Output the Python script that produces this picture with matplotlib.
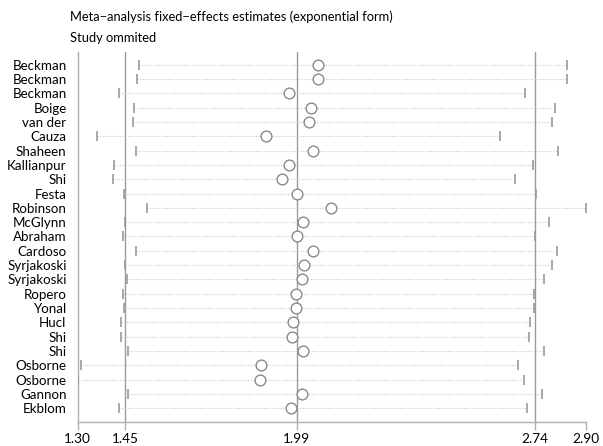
import matplotlib
matplotlib.use("Agg")
import matplotlib.pyplot as plt

studies = ["Beckman", "Beckman", "Beckman", "Boige", "van der", "Cauza", "Shaheen",
           "Kallianpur", "Shi", "Festa", "Robinson", "McGlynn", "Abraham", "Cardoso",
           "Syrjakoski", "Syrjakoski", "Ropero", "Yonal", "Hucl", "Shi", "Shi",
           "Osborne", "Osborne", "Gannon", "Ekblom"]
estimate = [2.057, 2.055, 1.966, 2.034, 2.029, 1.893, 2.042, 1.964, 1.943, 1.990,
            2.097, 2.010, 1.989, 2.040, 2.012, 2.007, 1.988, 1.988, 1.978, 1.976,
            2.009, 1.877, 1.875, 2.005, 1.970]
lower = [1.493, 1.488, 1.429, 1.478, 1.474, 1.362, 1.483, 1.413, 1.412, 1.446,
         1.517, 1.450, 1.444, 1.483, 1.450, 1.456, 1.444, 1.446, 1.435, 1.435,
         1.458, 1.311, 1.300, 1.457, 1.430]
upper = [2.839, 2.840, 2.709, 2.802, 2.794, 2.629, 2.812, 2.732, 2.676, 2.743,
         2.900, 2.783, 2.740, 2.808, 2.792, 2.769, 2.736, 2.737, 2.723, 2.722,
         2.767, 2.685, 2.706, 2.762, 2.715]
overall = [1.45, 1.99, 2.74]
xticks = [1.30, 1.45, 1.99, 2.74, 2.90]
xticklabels = ["1.30", "1.45", "1.99", "2.74", "2.90"]
title1 = "Meta\u2212analysis fixed\u2212effects estimates (exponential form)"
title2 = "Study ommited"

plt.rcParams['font.family'] = ['Lato', 'DejaVu Sans']

fig = plt.figure(figsize=(6.03, 4.46), dpi=100)
W, H = 603, 446
ax = fig.add_axes([77.7 / W, 1 - 421.7 / H, (586 - 77.7) / W, (421.7 - 52) / H])

ys = list(range(1, len(studies) + 1))
gray = "#9a9a9a"
for v in overall:
    ax.axvline(v, color=gray, lw=1.0, zorder=1)
for y, lo, hi in zip(ys, lower, upper):
    ax.plot([lo, hi], [y, y], color="#c8c8c8", lw=0.8, ls=(0, (1, 1.5)), zorder=2)
ax.scatter(lower, ys, marker="|", s=60, color=gray, linewidths=1.2, zorder=3)
ax.scatter(upper, ys, marker="|", s=60, color=gray, linewidths=1.2, zorder=3)
ax.scatter(estimate, ys, marker="o", s=60, facecolors="white", edgecolors="#8a8a8a",
           linewidths=1.0, zorder=4)

ax.set_xlim(1.30, 2.90)
ax.set_ylim(25.95, 0.1)
ax.set_yticks(ys)
ax.set_yticklabels(studies, fontsize=9.6)
ax.tick_params(axis="y", length=0, pad=8)
ax.set_xticks(xticks)
ax.set_xticklabels(xticklabels, fontsize=9.8)
ax.tick_params(axis="x", length=6, color="#b0b0b0", width=1, pad=2)
for s in ["top", "right"]:
    ax.spines[s].set_visible(False)
for s in ["left", "bottom"]:
    ax.spines[s].set_color("#b0b0b0")
    ax.spines[s].set_linewidth(1.0)

fig.text(70 / W, 1 - 17 / H, title1, fontsize=9.3, va="center", ha="left")
fig.text(70 / W, 1 - 38 / H, title2, fontsize=9.3, va="center", ha="left")

fig.savefig("out.png", dpi=100)
